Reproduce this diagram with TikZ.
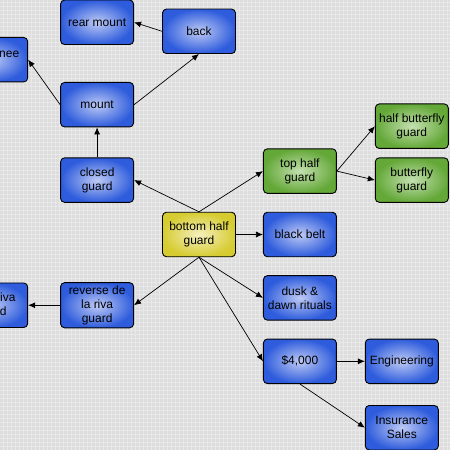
\documentclass[tikz,border=0pt]{standalone}
\usepackage{fontspec}
\setmainfont{Liberation Sans}
\usepackage{xcolor}
\usepackage{tikz}
\usetikzlibrary{arrows.meta, positioning}

\definecolor{nodeblue}{RGB}{46,92,220}
\definecolor{blueglow}{RGB}{190,202,245}
\definecolor{nodegreen}{RGB}{100,168,56}
\definecolor{greenglow}{RGB}{196,224,176}
\definecolor{nodeyellow}{RGB}{214,204,50}
\definecolor{yellowglow}{RGB}{245,240,190}
\definecolor{canvas}{RGB}{221,221,221}

\begin{document}
\begin{tikzpicture}[
    node distance=18pt,
    block/.style={rectangle, draw=black, line width=0.9pt, rounded corners=4pt, minimum width=73pt, minimum height=44.5pt, inner sep=3pt, align=center, font=\fontsize{12}{14}\selectfont},
    topic/.style={block, inner color=blueglow, outer color=nodeblue},
    halfguard/.style={block, inner color=greenglow, outer color=nodegreen},
    start/.style={block, inner color=yellowglow, outer color=nodeyellow},
    arrow/.style={-{Latex[length=7pt, width=6pt]}, line width=0.7pt}
]
% Canvas
\useasboundingbox (-199pt,-215.5pt) rectangle (251pt,234.5pt);
\clip (-199pt,-215.5pt) rectangle (251pt,234.5pt);
\fill[canvas] (-199pt,-215.5pt) rectangle (251pt,234.5pt);
\draw[white, line width=0.8pt, opacity=0.35, step=4pt] (-199pt,-215.5pt) grid (251pt,234.5pt);

% Centre
\node[start] (bhg) {bottom half\\guard};

% Right side
\node[topic, right=27pt of bhg] (belt) {black belt};
\node[halfguard, above=of belt] (thg) {top half\\guard};
\node[topic, below=of belt] (dusk) {dusk \&\\dawn rituals};
\node[topic, below=of dusk] (money) {\$4,000};
\node[topic, right=28pt of money] (eng) {Engineering};
\node[topic, below=21pt of eng] (ins) {Insurance\\Sales};
\node[halfguard, right=38pt of thg, yshift=-9pt] (bfly) {butterfly\\guard};
\node[halfguard, above=8.5pt of bfly] (hbfly) {half butterfly\\guard};

% Left side
\node[topic, above left=9pt and 28pt of bhg] (cguard) {closed\\guard};
\node[topic, above=30pt of cguard] (mount) {mount};
\node[topic, above=37pt of mount] (rmount) {rear mount};
\node[topic, right=28pt of rmount, yshift=-9pt] (back) {back};
\node[topic, left=32pt of mount, yshift=45pt, text width=56pt, align=right] (knee) {knee\\ ~};
\node[topic, below left=25pt and 28pt of bhg] (rdlr) {reverse de\\la riva\\guard};
\node[topic, left=32pt of rdlr] (dlr) {de la riva\\guard};

% Links
\draw[arrow] (back.west) -- (rmount.east);
\draw[arrow] (mount.west) -- (knee.east);
\draw[arrow] (mount.east) -- (back.south);
\draw[arrow] (cguard.north) -- (mount.south);
\draw[arrow] (bhg.north) -- (cguard.east);
\draw[arrow] (bhg.north) -- (thg.west);
\draw[arrow] (thg.east) -- (hbfly.west);
\draw[arrow] (thg.east) -- (bfly.west);
\draw[arrow] (bhg.east) -- (belt.west);
\draw[arrow] (bhg.south) -- (dusk.west);
\draw[arrow] (bhg.south) -- (rdlr.east);
\draw[arrow] (bhg.south) -- (money.west);
\draw[arrow] (money.east) -- (eng.west);
\draw[arrow] (money.south) -- (ins.west);
\draw[arrow] (rdlr.west) -- (dlr.east);
\end{tikzpicture}
\end{document}
